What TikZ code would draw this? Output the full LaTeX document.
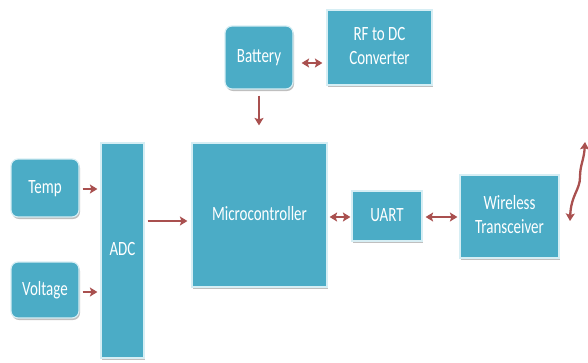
\documentclass[tikz,border=0pt]{standalone}
\usepackage{fontspec}
\setmainfont{Carlito}
\usetikzlibrary{arrows.meta,shadows}
\definecolor{boxfill}{HTML}{4BACC6}
\definecolor{boxedge}{HTML}{D6EEF4}
\definecolor{arrowcol}{HTML}{A9504F}
\newcommand{\blocktext}[1]{\scalebox{1}[1.35]{\begin{tabular}{@{}c@{}}#1\end{tabular}}}
\tikzset{
  block/.style={draw=boxedge, line width=1.2pt, fill=boxfill, text=white, inner sep=0pt,
    font=\fontsize{15}{18.5}\selectfont,
    drop shadow={shadow xshift=1pt, shadow yshift=-2pt, fill=black, opacity=0.25}},
  rblock/.style={block, rounded corners=7pt},
  tip/.tip={Stealth[length=7.5pt,width=9pt,inset=1.5pt]},
  conn/.style={draw=arrowcol, line width=2.3pt, -tip},
  dconn/.style={draw=arrowcol, line width=2.3pt, tip-tip}
}
\begin{document}
\begin{tikzpicture}[x=1pt,y=-1pt]
\useasboundingbox (0,0) rectangle (588,362);
\node[rblock, minimum width=68pt, minimum height=63pt] (battery) at (259,57.5) {\blocktext{Battery}};
\node[block, minimum width=105pt, minimum height=75pt] (rf) at (379.5,47.5) {\blocktext{RF to DC\\Converter}};
\node[block, minimum width=43pt, minimum height=215pt] (adc) at (122.5,250.5) {\blocktext{ADC}};
\node[block, minimum width=135pt, minimum height=144pt] (micro) at (259.5,215) {\blocktext{Microcontroller}};
\node[rblock, minimum width=68pt, minimum height=58pt] (temp) at (45,188) {\blocktext{Temp}};
\node[rblock, minimum width=68pt, minimum height=56pt] (volt) at (45,290) {\blocktext{Voltage}};
\node[block, minimum width=70pt, minimum height=50pt] (uart) at (387,216) {\blocktext{UART}};
\node[block, minimum width=99pt, minimum height=83pt] (wt) at (509.5,216.5) {\blocktext{Wireless\\Transceiver}};
\coordinate (antA) at (570,221);
\coordinate (antB) at (585,142);

\draw[dconn, shorten <=8pt, shorten >=4pt] ([yshift=-5.5pt]battery.east) -- ([yshift=-15.5pt]rf.west);
\draw[conn, shorten <=6pt, shorten >=17pt] (battery.south) -- (battery.south |- micro.north);
\draw[conn, shorten <=3pt, shorten >=3pt] ([yshift=-1pt]temp.east) -- ([yshift=-1pt]temp.east -| adc.west);
\draw[conn, shorten <=3pt, shorten >=3pt] ([yshift=-2pt]volt.east) -- ([yshift=-2pt]volt.east -| adc.west);
\draw[conn, shorten <=3pt, shorten >=4pt] (adc.east |- 0,221) -- (micro.west |- 0,221);
\draw[dconn, shorten <=2pt, shorten >=1pt] (micro.east |- 0,217) -- (uart.west |- 0,217);
\draw[dconn, shorten <=3pt, shorten >=2pt] (uart.east |- 0,217) -- (wt.west |- 0,217);
\draw[dconn] (antA) .. controls (571,195) and (580,190) .. (580,177) .. controls (580,165) and (584,160) .. (antB);
\end{tikzpicture}
\end{document}
